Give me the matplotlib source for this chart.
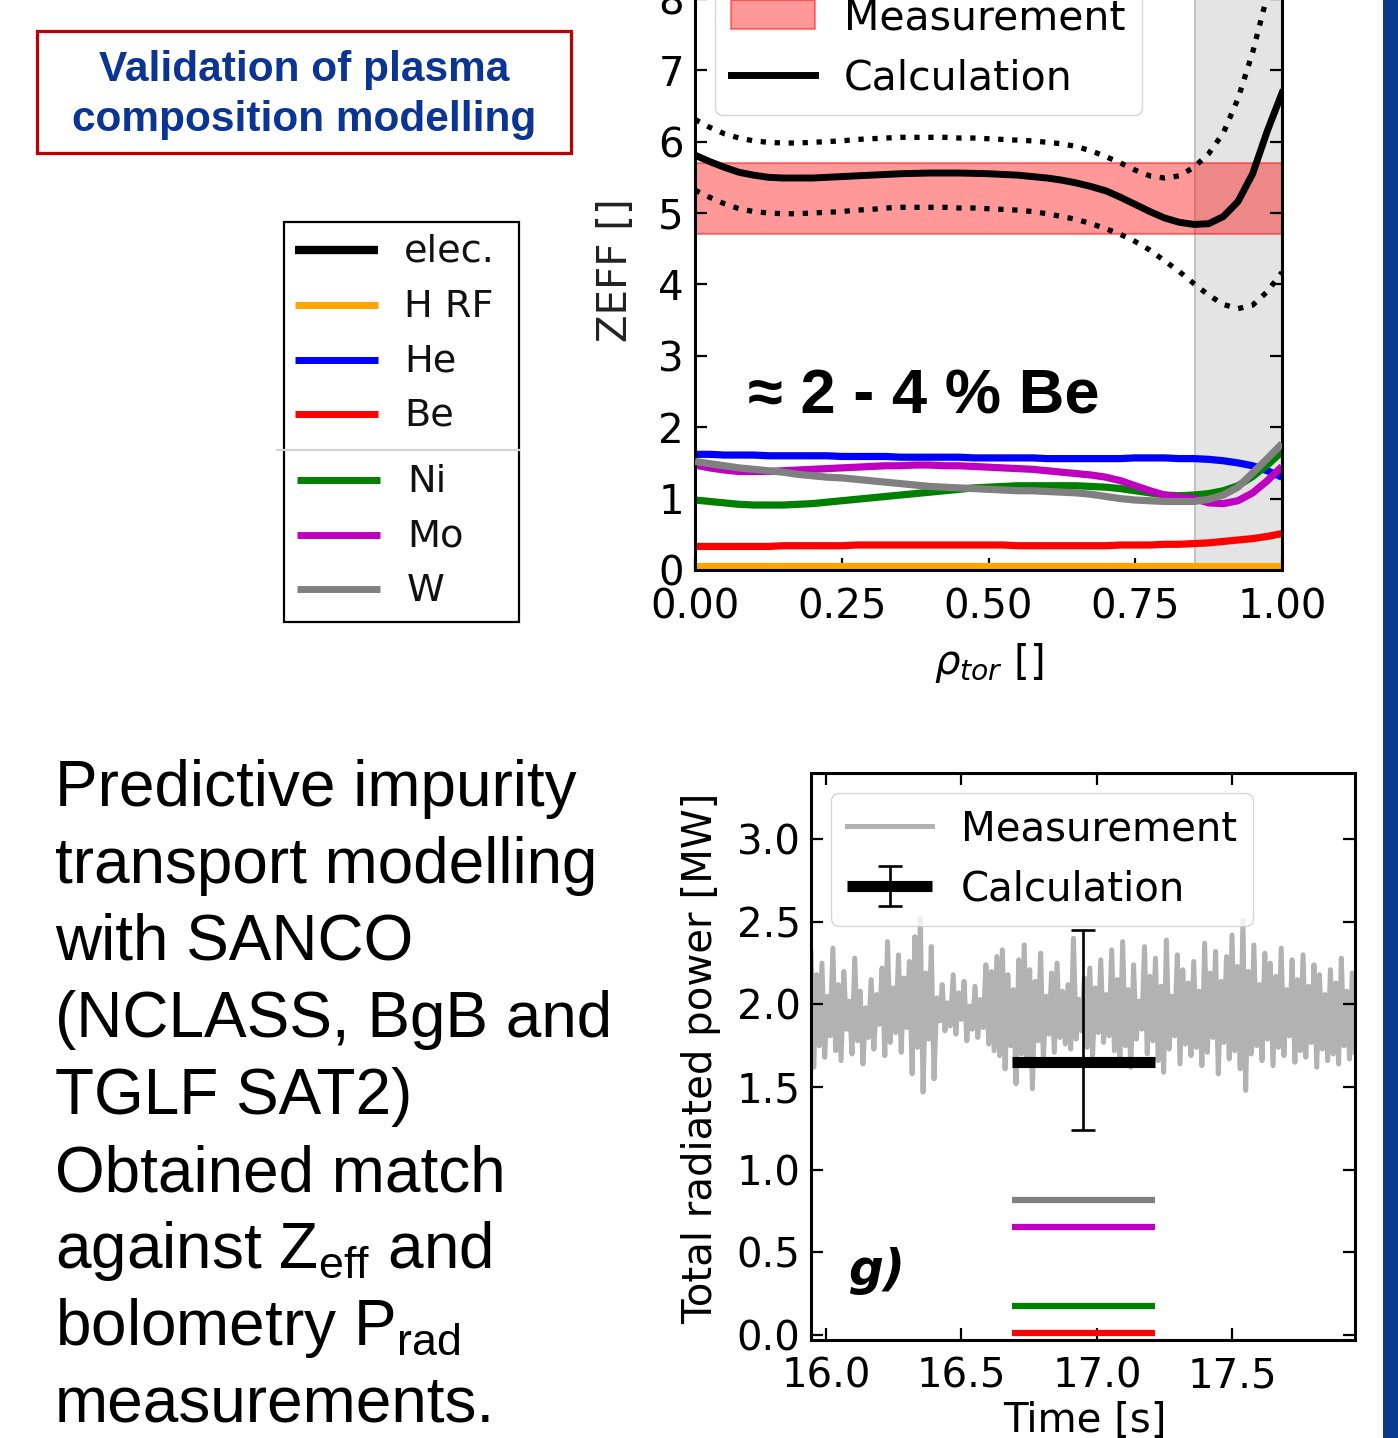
import matplotlib
matplotlib.use('Agg')
import matplotlib.pyplot as plt
from matplotlib.lines import Line2D
from matplotlib.patches import Rectangle
from matplotlib.legend_handler import HandlerTuple
import numpy as np

plt.rcParams['font.family'] = ['DejaVu Sans']
plt.rcParams['mathtext.fontset'] = 'custom'
plt.rcParams['mathtext.rm'] = 'Liberation Sans'
plt.rcParams['mathtext.it'] = 'DejaVu Sans:italic'
plt.rcParams['mathtext.bf'] = 'Liberation Sans:bold'

# ---------------- data: ZEFF profiles ----------------
rho = [0.000, 0.025, 0.050, 0.075, 0.100, 0.125, 0.150, 0.175, 0.200, 0.225, 0.250,
       0.275, 0.300, 0.325, 0.350, 0.375, 0.400, 0.425, 0.450, 0.475, 0.500,
       0.525, 0.550, 0.575, 0.600, 0.625, 0.650, 0.675, 0.700, 0.725, 0.750,
       0.775, 0.800, 0.825, 0.850, 0.875, 0.900, 0.925, 0.950, 0.975, 1.000]
zeff_calc = [5.81, 5.72, 5.64, 5.57, 5.53, 5.50, 5.49, 5.49, 5.49, 5.50, 5.51,
             5.52, 5.53, 5.54, 5.55, 5.555, 5.56, 5.56, 5.56, 5.555, 5.55,
             5.54, 5.53, 5.51, 5.49, 5.46, 5.42, 5.37, 5.31, 5.22, 5.12,
             5.02, 4.93, 4.87, 4.84, 4.85, 4.95, 5.16, 5.55, 6.15, 6.68]
zeff_upper = [6.31, 6.20, 6.11, 6.05, 6.01, 5.99, 5.98, 5.98, 5.99, 6.00, 6.01,
              6.03, 6.04, 6.05, 6.06, 6.06, 6.06, 6.06, 6.05, 6.05, 6.04,
              6.03, 6.02, 6.01, 5.99, 5.97, 5.93, 5.87, 5.79, 5.70, 5.60,
              5.52, 5.49, 5.52, 5.64, 5.83, 6.12, 6.60, 7.25, 8.05, 9.00]
zeff_lower = [5.32, 5.22, 5.13, 5.06, 5.02, 5.00, 4.99, 4.99, 5.00, 5.01, 5.02,
              5.04, 5.05, 5.07, 5.08, 5.08, 5.08, 5.08, 5.07, 5.07, 5.06,
              5.05, 5.04, 5.02, 4.99, 4.95, 4.91, 4.85, 4.78, 4.70, 4.60,
              4.48, 4.33, 4.18, 4.01, 3.85, 3.72, 3.66, 3.71, 3.90, 4.17]
zeff_hrf = [0.06, 0.06, 0.06, 0.06, 0.06, 0.06, 0.06, 0.06, 0.06, 0.06, 0.06,
            0.06, 0.06, 0.06, 0.06, 0.06, 0.06, 0.06, 0.06, 0.06, 0.06,
            0.06, 0.06, 0.06, 0.06, 0.06, 0.06, 0.06, 0.06, 0.06, 0.06,
            0.06, 0.06, 0.06, 0.06, 0.06, 0.06, 0.06, 0.06, 0.06, 0.06]
zeff_he = [1.62, 1.62, 1.61, 1.61, 1.61, 1.60, 1.60, 1.60, 1.60, 1.60, 1.59,
           1.59, 1.59, 1.59, 1.58, 1.58, 1.58, 1.58, 1.58, 1.57, 1.57,
           1.57, 1.57, 1.57, 1.56, 1.56, 1.56, 1.56, 1.56, 1.56, 1.57,
           1.57, 1.57, 1.56, 1.56, 1.55, 1.53, 1.50, 1.46, 1.39, 1.30]
zeff_be = [0.33, 0.33, 0.33, 0.33, 0.33, 0.33, 0.34, 0.34, 0.34, 0.34, 0.34,
           0.35, 0.35, 0.35, 0.35, 0.35, 0.35, 0.35, 0.35, 0.35, 0.35,
           0.35, 0.34, 0.34, 0.34, 0.34, 0.34, 0.34, 0.34, 0.35, 0.35,
           0.35, 0.36, 0.36, 0.37, 0.38, 0.40, 0.42, 0.44, 0.47, 0.51]
zeff_ni = [0.98, 0.96, 0.94, 0.92, 0.91, 0.91, 0.91, 0.92, 0.93, 0.95, 0.97,
           0.99, 1.01, 1.03, 1.05, 1.07, 1.09, 1.11, 1.13, 1.15, 1.16,
           1.17, 1.18, 1.18, 1.18, 1.18, 1.18, 1.17, 1.16, 1.14, 1.11,
           1.08, 1.05, 1.04, 1.05, 1.07, 1.11, 1.18, 1.31, 1.47, 1.66]
zeff_mo = [1.47, 1.43, 1.40, 1.38, 1.38, 1.38, 1.39, 1.40, 1.41, 1.42, 1.43,
           1.44, 1.45, 1.46, 1.46, 1.47, 1.47, 1.46, 1.46, 1.45, 1.44,
           1.43, 1.42, 1.41, 1.39, 1.37, 1.35, 1.33, 1.30, 1.25, 1.18,
           1.11, 1.05, 1.02, 1.00, 0.94, 0.93, 0.97, 1.08, 1.25, 1.45]
zeff_w = [1.52, 1.49, 1.46, 1.43, 1.41, 1.39, 1.37, 1.34, 1.32, 1.30, 1.29,
          1.27, 1.25, 1.23, 1.21, 1.19, 1.17, 1.16, 1.15, 1.14, 1.13,
          1.12, 1.11, 1.11, 1.10, 1.09, 1.08, 1.06, 1.03, 1.00, 0.98,
          0.97, 0.96, 0.96, 0.96, 0.99, 1.05, 1.16, 1.36, 1.56, 1.77]
meas_lo, meas_hi = 4.7, 5.7
edge_rho = 0.851

species = ['elec.', 'H RF', 'He', 'Be', 'Ni', 'Mo', 'W']
species_colors = ['black', 'orange', 'blue', 'red', 'green', '#c000c0', 'grey']

# ---------------- data: radiated power ----------------
t_start, t_end = 15.945, 17.952
p_meas = [2.31, 1.62, 2.18, 1.75, 2.25, 1.68, 2.05, 1.81, 2.34, 1.72, 2.12, 1.66, 2.20, 1.85, 2.02, 1.70, 2.28, 1.78, 2.08, 1.64,
          1.98, 1.80, 2.15, 1.73, 2.06, 1.88, 2.22, 1.69, 2.38, 1.77, 2.10, 1.83, 2.30, 1.71, 2.16, 1.86, 2.26, 1.58, 2.41, 1.74,
          2.52, 1.47, 2.19, 1.79, 2.35, 1.55, 2.04, 1.90, 2.12, 1.84, 2.01, 1.87, 2.18, 1.82, 2.07, 1.91, 2.14, 1.78, 1.99, 1.85,
          2.11, 1.80, 2.03, 1.86, 2.24, 1.76, 2.20, 1.72, 2.29, 1.69, 2.33, 1.61, 2.18, 1.75, 2.09, 1.52, 2.27, 1.70, 2.36, 1.67,
          2.21, 1.49, 2.14, 1.78, 2.31, 1.66, 2.05, 1.82, 2.19, 1.71, 2.25, 1.80, 2.08, 1.76, 2.12, 1.73, 2.40, 1.79, 2.03, 1.84,
          2.16, 1.74, 2.22, 1.69, 2.10, 1.83, 2.27, 1.77, 2.06, 1.81, 2.33, 1.72, 2.15, 1.68, 2.38, 1.75, 2.09, 1.62, 2.24, 1.79,
          2.02, 1.85, 2.35, 1.70, 2.17, 1.78, 2.28, 1.66, 2.11, 1.59, 2.39, 1.73, 2.05, 1.81, 2.30, 1.64, 2.21, 1.76, 2.13, 1.69,
          2.26, 1.74, 2.08, 1.63, 2.37, 1.71, 2.19, 1.80, 2.32, 1.58, 2.14, 1.77, 2.29, 1.67, 2.42, 1.72, 2.23, 1.61, 2.51, 1.48,
          2.20, 1.70, 2.36, 1.75, 2.12, 1.66, 2.31, 1.79, 2.25, 1.63, 2.17, 1.74, 2.34, 1.69, 2.09, 1.81, 2.27, 1.65, 2.15, 1.72,
          2.30, 1.68, 2.11, 1.77, 2.24, 1.62, 2.18, 1.73, 2.06, 1.66, 2.21, 1.70, 2.13, 1.64, 2.28, 1.75, 2.08, 1.67, 2.19, 1.71]
calc_t, calc_p = 16.948, 1.65
calc_err_lo, calc_err_hi = 0.41, 0.80
win_t0, win_t1 = 16.685, 17.215
contrib_names = ['W', 'Mo', 'Ni', 'Be']
contrib_vals = [0.815, 0.655, 0.175, 0.015]
contrib_colors = ['grey', '#c000c0', 'green', 'red']

# ---------------- figure ----------------
W, H = 1398, 1438
fig = plt.figure(figsize=(W / 100, H / 100), dpi=100)
fx = lambda px: px / W
fy = lambda py: 1 - py / H

FS = 29

# --- top axes: ZEFF
ax1 = fig.add_axes([fx(695), fy(570), (1282 - 695) / W, 8.6 * 71.4 / H])
ax1.axvspan(edge_rho, 1.0, facecolor='#e4e4e4', edgecolor='#c4c4c4', lw=1.5, zorder=0)
ax1.axhspan(meas_lo, meas_hi, facecolor=(1, 0, 0, 0.4), edgecolor=(1, 0, 0, 0.45), lw=1.5,
            zorder=1, label='Measurement')
ax1.plot(rho, zeff_upper, ':', color='k', lw=3.8, zorder=3)
ax1.plot(rho, zeff_lower, ':', color='k', lw=3.8, zorder=3)
ax1.plot(rho, zeff_calc, color='k', lw=5.0, zorder=4, label='Calculation')
series = [zeff_calc, zeff_hrf, zeff_he, zeff_be, zeff_ni, zeff_mo, zeff_w]
for name, col, vals, z in zip(species[1:], species_colors[1:], series[1:], [2.1, 2.3, 2.2, 2.4, 2.5, 2.6]):
    ax1.plot(rho, vals, color=col, lw=5.2, zorder=z, solid_capstyle='butt')
ax1.set_xlim(0, 1)
ax1.set_ylim(0, 8.6)
ax1.set_xticks([0, 0.25, 0.5, 0.75, 1.0])
ax1.set_xticklabels(['0.00', '0.25', '0.50', '0.75', '1.00'])
ax1.set_yticks(range(0, 9))
ax1.tick_params(direction='in', length=8.5, width=1.6, labelsize=FS, top=True, right=True)
ax1.tick_params(axis='x', pad=12.5)
ax1.tick_params(axis='y', pad=8.0)
for s in ax1.spines.values():
    s.set_linewidth(2.2)
ax1.set_xlabel(r'$\rho_{tor}$ []', fontsize=FS)
ax1.xaxis.set_label_coords(0.5, -0.115)
ax1.set_ylabel('ZEFF []', fontsize=FS, color='#222222')
ax1.yaxis.set_label_coords(-0.101, 0.489)
ax1.legend(loc='lower left', bbox_to_anchor=(0.034, (570 - 115) / 614.04), borderaxespad=0,
           fontsize=FS + 0.5, handlelength=2.05, handletextpad=0.7, labelspacing=0.5)
ax1.text(0.09, 2.42, '≈ 2 - 4 % Be', fontsize=45.5, fontweight='bold',
         family=['Liberation Sans', 'DejaVu Sans'], ha='left', va='center', zorder=5)

# --- bottom axes: radiated power
ax2 = fig.add_axes([fx(811), fy(1340), (1355 - 811) / W, (1340 - 773) / H])
t_meas = np.linspace(t_start, t_end, len(p_meas))
meas_line, = ax2.plot(t_meas, p_meas, color='#b2b2b2', lw=3.6, zorder=1, label='Measurement')
for nm, v, c in zip(contrib_names, contrib_vals, contrib_colors):
    ax2.plot([win_t0, win_t1], [v, v], color=c, lw=4.5, solid_capstyle='butt', zorder=2)
thick, = ax2.plot([win_t0, win_t1], [calc_p, calc_p], color='k', lw=8, solid_capstyle='butt', zorder=3)
eb = ax2.errorbar(calc_t, calc_p, yerr=[[calc_err_lo], [calc_err_hi]], fmt='o', color='k', ms=7,
                  capsize=8.5, elinewidth=1.9, capthick=1.9, zorder=4)
ax2.set_xlim(t_start, t_end)
ax2.set_ylim(-0.03, 3.4)
ax2.set_xticks([16.0, 16.5, 17.0, 17.5])
ax2.set_yticks([0.0, 0.5, 1.0, 1.5, 2.0, 2.5, 3.0])
ax2.tick_params(direction='in', length=8.5, width=1.6, labelsize=FS, top=True, right=True)
ax2.tick_params(axis='x', pad=12.0)
ax2.tick_params(axis='y', pad=7.5)
for s in ax2.spines.values():
    s.set_linewidth(2.2)
ax2.set_ylabel('Total radiated power [MW]', fontsize=FS)
ax2.yaxis.set_label_coords(-0.166, 0.497)
ax2.set_xlabel('Time [s]', fontsize=FS)
ax2.xaxis.set_label_coords(0.504, -0.107)
ax2.legend([meas_line, (thick, eb)], ['Measurement', 'Calculation'],
           handler_map={tuple: HandlerTuple(ndivide=1)},
           loc='upper left', fontsize=FS, borderaxespad=0.5, handlelength=2.1, handletextpad=0.72)
ax2.text(16.08, 0.39, 'g)', fontsize=35, fontweight='bold', fontstyle='italic', ha='left', va='center')

# --- title box
fig.add_artist(Rectangle((fx(37), fy(153)), (571 - 37) / W, (153 - 31) / H, transform=fig.transFigure,
                         fill=False, edgecolor='#c00000', lw=2.3))
title_lines = ['Validation of plasma', 'composition modelling']
for txt, yy in zip(title_lines, [70, 120]):
    fig.text(fx(304), fy(yy), txt, ha='center', va='center', fontsize=30.5, fontweight='bold',
             color='#0a3594', family='Liberation Sans')

# --- species legend panel
fig.add_artist(Rectangle((fx(284), fy(622)), (519 - 284) / W, (622 - 222) / H, transform=fig.transFigure,
                         fill=False, edgecolor='black', lw=1.6))
leg_y = [250, 305, 360, 414, 480, 535, 589]
for i, (nm, col, yy) in enumerate(zip(species, species_colors, leg_y)):
    x0, x1, xt = (295, 378, 404) if i < 4 else (297, 380, 407)
    fig.add_artist(Line2D([fx(x0), fx(x1)], [fy(yy), fy(yy)], transform=fig.transFigure,
                          color=col, lw=6.0 if i == 0 else 5.0, solid_capstyle='butt'))
    fig.text(fx(xt), fy(yy + 2), nm, ha='left', va='center', fontsize=27.5, color='#111111')
fig.add_artist(Line2D([fx(277), fx(519)], [fy(450), fy(450)], transform=fig.transFigure,
                      color='#d4d4d4', lw=1.6))

# --- descriptive text
body = ['Predictive impurity', 'transport modelling', 'with SANCO', '(NCLASS, BgB and',
        'TGLF SAT2)', 'Obtained match', r'against Z$_{\mathrm{eff}}$ and',
        r'bolometry P$_{\mathrm{rad}}$', 'measurements.']
for k, line in enumerate(body):
    fig.text(fx(55), fy(806 + 77 * k), line, ha='left', va='baseline', fontsize=46,
             family='Liberation Sans', color='black')

# --- right blue bar
fig.add_artist(Rectangle((fx(1383), 0), (W - 1383) / W, 1, transform=fig.transFigure,
                         facecolor='#0a3a8e', edgecolor='none'))

fig.savefig('out.png', dpi=100)
